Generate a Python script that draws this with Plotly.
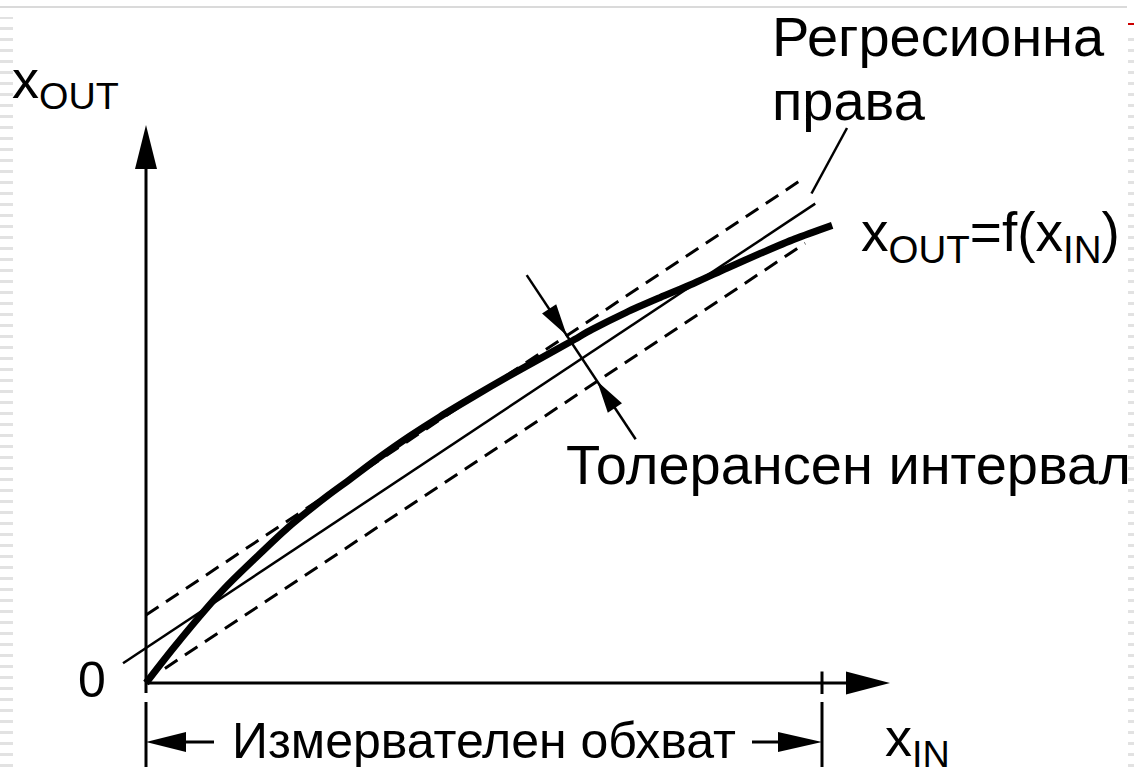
import math
import plotly.graph_objects as go

# ---------------- data (x_IN normalised: measuring range = 0..100) ----------------
x_in = [0, 4, 9, 12, 16, 21, 27, 30, 34, 39, 43.5, 48.5, 53.5, 58.5, 63, 66, 71, 76,
        81, 86, 91, 96, 101.5]
x_out = [0, 5.1, 11.1, 14.4, 18.3, 23.0, 27.8, 30.0, 33.0, 36.5, 39.4, 42.4, 45.3,
         48.1, 50.6, 52.3, 54.8, 57.0, 59.1, 61.4, 63.6, 65.7, 67.7]
measuring_range = [0, 100]
regression_intercept = 5.18
regression_slope = 0.664
regression_span = [-3.4, 99.0]
tolerance_half = 4.88          # vertical half width of the tolerance band
upper_span = [0, 96.75]
lower_span = [2.8, 97.5]
tolerance_marker_x = 64.5

label_regression = ["Регресионна", "права"]
label_function = "x<sub>OUT</sub>=f(x<sub>IN</sub>)"
label_tolerance = "Толерансен интервал"
label_range = "Измервателен обхват"
label_xin = "x<sub>IN</sub>"
label_xout = "x<sub>OUT</sub>"
label_zero = "0"

# ---------------- geometry ----------------
W, H = 1134, 767
S = 6.76            # pixels per unit (equal on both axes)
OX, OY = 146, 683   # pixel position of the origin
def px2x(px): return (px - OX) / S
def py2y(py): return (OY - py) / S

FONT = "Liberation Sans, Arial, sans-serif"
BLACK = "#000000"

fig = go.Figure()

def line_y(x, offset):
    return regression_intercept + offset + regression_slope * x

# tolerance band (dashed)
for span, off in ((upper_span, tolerance_half), (lower_span, -tolerance_half)):
    fig.add_trace(go.Scatter(x=span, y=[line_y(v, off) for v in span], mode="lines",
                             line=dict(color=BLACK, width=3, dash="15px,9px"),
                             hoverinfo="skip", showlegend=False))
# regression line
fig.add_trace(go.Scatter(x=regression_span, y=[line_y(v, 0) for v in regression_span],
                         mode="lines", line=dict(color=BLACK, width=2.5),
                         hoverinfo="skip", showlegend=False))
# characteristic
fig.add_trace(go.Scatter(x=x_in, y=x_out, mode="lines",
                         line=dict(color=BLACK, width=7, shape="spline", smoothing=0.8),
                         hoverinfo="skip", showlegend=False))

shapes = []
def seg(x0, y0, x1, y1, w=3):
    shapes.append(dict(type="line", x0=x0, y0=y0, x1=x1, y1=y1, xref="x", yref="y",
                       line=dict(color=BLACK, width=w)))

def arrowhead(tx, ty, dx, dy, length_px, width_px):
    n = math.hypot(dx, dy); dx, dy = dx / n, dy / n
    bx, by = tx - dx * length_px / S, ty - dy * length_px / S
    px_, py_ = -dy * width_px / 2 / S, dx * width_px / 2 / S
    path = f"M {tx} {ty} L {bx + px_} {by + py_} L {bx - px_} {by - py_} Z"
    shapes.append(dict(type="path", path=path, xref="x", yref="y",
                       fillcolor=BLACK, line=dict(width=0)))

# axes
y_top = py2y(125)
x_end = px2x(890)
seg(0, py2y(693), 0, y_top - 40 / S)
arrowhead(0, y_top, 0, 1, 44, 22)
seg(0, 0, x_end - 40 / S, 0)
arrowhead(x_end, 0, 1, 0, 44, 23)
# end-of-range tick
seg(measuring_range[1], py2y(694), measuring_range[1], py2y(671.5))
# measuring range bracket
for xr in measuring_range:
    seg(xr, py2y(702), xr, py2y(770))
yb = py2y(742)
seg(measuring_range[0] + 30 / S, yb, measuring_range[0] + 68 / S, yb)
arrowhead(measuring_range[0], yb, -1, 0, 40, 20)
seg(measuring_range[1] - 70 / S, yb, measuring_range[1] - 30 / S, yb)
arrowhead(measuring_range[1], yb, 1, 0, 44, 20)

# tolerance interval arrows (perpendicular to regression line)
ux, uy = regression_slope, -1.0
n = math.hypot(ux, uy); ux, uy = ux / n, uy / n
cx, cy = tolerance_marker_x, line_y(tolerance_marker_x, 0)
d = tolerance_half / math.hypot(1, regression_slope)
t_up = (cx - d * ux, cy - d * uy)
t_lo = (cx + d * ux, cy + d * uy)
L = 100 / S
seg(cx - L * ux, cy - L * uy, cx + 0.97 * L * ux, cy + 0.97 * L * uy, 2.5)
arrowhead(t_up[0], t_up[1], ux, uy, 32, 17)
arrowhead(t_lo[0], t_lo[1], -ux, -uy, 32, 17)

# leader line for regression label
seg(px2x(811.5), py2y(193.5), px2x(847), py2y(128), 2.5)

# slide decorations
shapes.append(dict(type="line", xref="paper", yref="paper", x0=0, x1=1127 / W,
                   y0=1 - 7 / H, y1=1 - 7 / H, line=dict(color="#dadada", width=2)))
shapes.append(dict(type="line", xref="paper", yref="paper", x0=6.5 / W, x1=6.5 / W,
                   y0=0, y1=1 - 17 / H, line=dict(color="#e2e2e2", width=13, dash="3px,8px")))
shapes.append(dict(type="line", xref="paper", yref="paper", x0=1131 / W, x1=1131 / W,
                   y0=0, y1=1 - 38 / H, line=dict(color="#e2e2e2", width=6, dash="3px,8px")))
shapes.append(dict(type="line", xref="paper", yref="paper", x0=1128 / W, x1=1134 / W,
                   y0=1 - 24 / H, y1=1 - 24 / H, line=dict(color="#cc0000", width=2)))

ann = []
def text(t, px, py, size, xanchor="left", yanchor="middle"):
    ann.append(dict(text=t, x=px2x(px), y=py2y(py), xref="x", yref="y", showarrow=False,
                    xanchor=xanchor, yanchor=yanchor,
                    font=dict(family=FONT, size=size, color=BLACK)))

text(label_regression[0], 770, 36, 56)
text(label_regression[1], 770, 100, 56)
text(label_function, 859, 236, 55)
text(label_tolerance, 564, 464, 56)
text(label_range, 484, 741, 50, xanchor="center")
text(label_xin, 883, 741, 54)
text(label_xout, 10, 83, 54)
text(label_zero, 92, 680, 50, xanchor="center")

fig.update_layout(
    width=W, height=H, margin=dict(l=0, r=0, t=0, b=0),
    paper_bgcolor="white", plot_bgcolor="white",
    xaxis=dict(range=[px2x(0), px2x(W)], visible=False, fixedrange=True),
    yaxis=dict(range=[py2y(H), py2y(0)], visible=False, fixedrange=True),
    shapes=shapes, annotations=ann, showlegend=False,
)
fig.write_html("out.html", config={"displayModeBar": False},
               post_script="document.body.style.margin='0';document.body.style.overflow='hidden';")
